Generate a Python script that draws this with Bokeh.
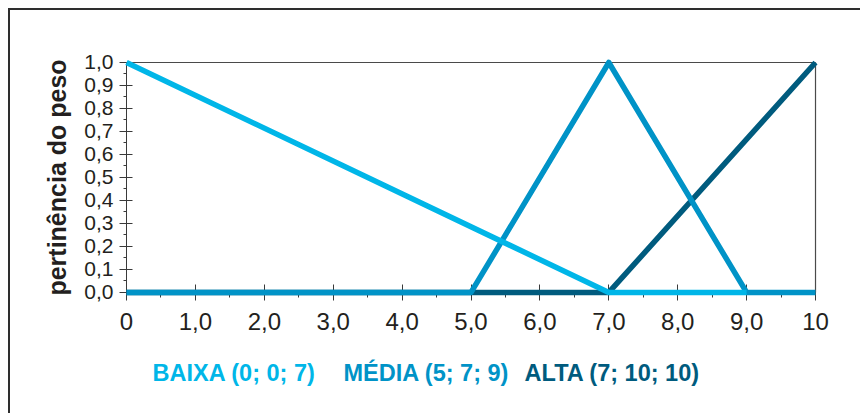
from bokeh.plotting import figure
from bokeh.models import FixedTicker, Label, Range1d
from bokeh.embed import file_html
from bokeh.resources import INLINE

# ---- data ----
baixa_x = [0, 7, 9]
baixa_y = [1.0, 0.0, 0.0]
media_x = [0, 5, 7, 9, 10]
media_y = [0.0, 0.0, 1.0, 0.0, 0.0]
alta_x = [0, 7, 10]
alta_y = [0.0, 0.0, 1.0]

x_ticks = [0, 1, 2, 3, 4, 5, 6, 7, 8, 9, 10]
x_tick_labels = ["0", "1,0", "2,0", "3,0", "4,0", "5,0", "6,0", "7,0", "8,0", "9,0", "10"]
y_ticks = [0.0, 0.1, 0.2, 0.3, 0.4, 0.5, 0.6, 0.7, 0.8, 0.9, 1.0]
y_tick_labels = ["0,0", "0,1", "0,2", "0,3", "0,4", "0,5", "0,6", "0,7", "0,8", "0,9", "1,0"]
x_minor = [i * 0.5 for i in range(21)]
y_minor = [i * 0.05 for i in range(21)]

legend_texts = ["BAIXA (0; 0; 7)", "MÉDIA (5; 7; 9)", "ALTA (7; 10; 10)"]
c_baixa, c_media, c_alta = "#00b6e8", "#0093c7", "#005b7e"
legend_colors = [c_baixa, c_media, c_alta]

x_lo, x_hi = 0, 10
y_lo, y_hi = 0.0, 1.0

FONT = "Liberation Sans"
TXT = "#231f20"

W, H = 852, 405
p = figure(width=W, height=H, output_backend="svg", toolbar_location=None,
           x_range=Range1d(-1.684, 10.682),
           y_range=Range1d(-0.535, 1.226),
           min_border=0)
p.styles = {"margin-left": "8px", "margin-top": "8px",
            "border-top": "2px solid #2e2e2e", "border-left": "2px solid #2e2e2e"}
p.outline_line_color = None
p.grid.visible = False

# frame lines (top and right)
p.segment(x0=[x_lo, x_hi], y0=[y_hi, y_lo], x1=[x_hi, x_hi], y1=[y_hi, y_hi],
          line_color="#4a4a4a", line_width=1.2)

# axes drawn at the data origin, beneath the series lines
p.xaxis.fixed_location = y_lo
p.yaxis.fixed_location = x_lo
p.xaxis.bounds = (x_lo, x_hi)
p.yaxis.bounds = (y_lo, y_hi)
p.xaxis.ticker = FixedTicker(ticks=x_ticks, minor_ticks=x_minor)
p.yaxis.ticker = FixedTicker(ticks=y_ticks, minor_ticks=y_minor)
p.xaxis.major_label_overrides = {t: l for t, l in zip(x_ticks, x_tick_labels)}
p.yaxis.major_label_overrides = {t: l for t, l in zip(y_ticks, y_tick_labels)}

for ax in (p.xaxis, p.yaxis):
    ax.level = "underlay"
    ax.axis_line_color = "#3a3a3a"
    ax.major_tick_line_color = "#3a3a3a"
    ax.minor_tick_line_color = "#3a3a3a"
    ax.major_label_text_font = FONT
    ax.major_label_text_color = TXT
p.xaxis.major_tick_in = 8
p.xaxis.major_tick_out = 8
p.xaxis.minor_tick_in = 0
p.xaxis.minor_tick_out = 5
p.xaxis.major_label_text_font_size = "24px"
p.xaxis.major_label_standoff = 13

p.yaxis.major_tick_in = 6
p.yaxis.major_tick_out = 7
p.yaxis.minor_tick_in = 0
p.yaxis.minor_tick_out = 3
p.yaxis.major_label_text_font_size = "21px"
p.yaxis.major_label_standoff = 6
p.yaxis.axis_label = "pertinência do peso"
p.yaxis.axis_label_text_font = FONT
p.yaxis.axis_label_text_font_style = "bold"
p.yaxis.axis_label_text_font_size = "25px"
p.yaxis.axis_label_text_color = TXT
p.yaxis.axis_label_standoff = 10

# series
p.line(alta_x, alta_y, line_color=c_alta, line_width=5.5, line_join="round")
p.line(media_x, media_y, line_color=c_media, line_width=5.5, line_join="round")
p.line(baixa_x, baixa_y, line_color=c_baixa, line_width=5.5, line_join="round")

# legend text below the plot
legend_x = [0.377, 3.149, 5.777]
for t, c, lx in zip(legend_texts, legend_colors, legend_x):
    p.add_layout(Label(x=lx, y=-0.352, text=t, text_color=c, text_font=FONT,
                       text_font_style="bold", text_font_size="23.5px",
                       text_baseline="middle", text_align="left"))

open("out.html", "w").write(file_html(p, INLINE))
